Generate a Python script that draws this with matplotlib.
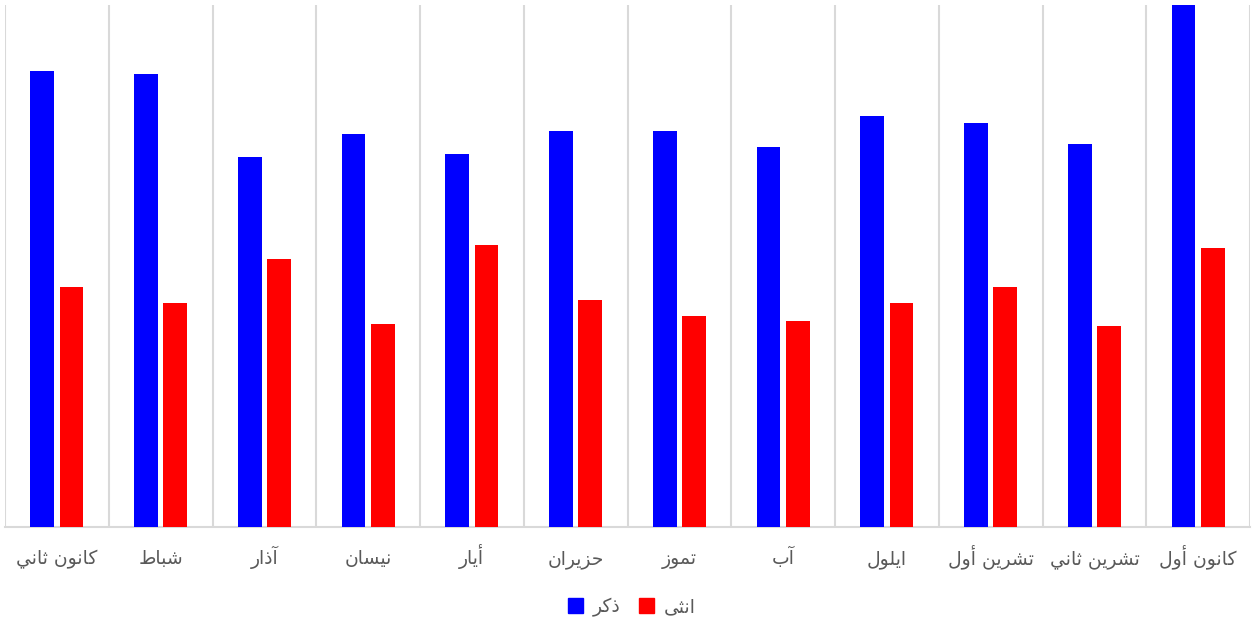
import matplotlib
matplotlib.use("Agg")
import matplotlib.pyplot as plt
from matplotlib.patches import Patch
import numpy as np

months = ["كانون ثاني", "شباط", "آذار", "نيسان", "أيار", "حزيران",
          "تموز", "آب", "ايلول", "تشرين أول", "تشرين ثاني", "كانون أول"]
male = [456, 453, 370, 393, 373, 396, 396, 380, 411, 404, 383, 523]
female = [240, 224, 268, 203, 282, 227, 211, 206, 224, 240, 201, 279]
series_names = ["ذكر", "انثى"]

# minimal arabic shaping: (isolated, final, initial, medial)
FORMS = {
    "ا": ("\uFE8D", "\uFE8E", None, None),
    "آ": ("\uFE81", "\uFE82", None, None),
    "أ": ("\uFE83", "\uFE84", None, None),
    "ب": ("\uFE8F", "\uFE90", "\uFE91", "\uFE92"),
    "ت": ("\uFE95", "\uFE96", "\uFE97", "\uFE98"),
    "ث": ("\uFE99", "\uFE9A", "\uFE9B", "\uFE9C"),
    "ح": ("\uFEA1", "\uFEA2", "\uFEA3", "\uFEA4"),
    "ذ": ("\uFEAB", "\uFEAC", None, None),
    "ر": ("\uFEAD", "\uFEAE", None, None),
    "ز": ("\uFEAF", "\uFEB0", None, None),
    "س": ("\uFEB1", "\uFEB2", "\uFEB3", "\uFEB4"),
    "ش": ("\uFEB5", "\uFEB6", "\uFEB7", "\uFEB8"),
    "ط": ("\uFEC1", "\uFEC2", "\uFEC3", "\uFEC4"),
    "ك": ("\uFED9", "\uFEDA", "\uFEDB", "\uFEDC"),
    "ل": ("\uFEDD", "\uFEDE", "\uFEDF", "\uFEE0"),
    "م": ("\uFEE1", "\uFEE2", "\uFEE3", "\uFEE4"),
    "ن": ("\uFEE5", "\uFEE6", "\uFEE7", "\uFEE8"),
    "و": ("\uFEED", "\uFEEE", None, None),
    "ى": ("\uFEEF", "\uFEF0", None, None),
    "ي": ("\uFEF1", "\uFEF2", "\uFEF3", "\uFEF4"),
}


def shape(text):
    out = []
    for i, ch in enumerate(text):
        if ch not in FORMS:
            out.append(ch)
            continue
        prev = text[i - 1] if i > 0 else ""
        nxt = text[i + 1] if i + 1 < len(text) else ""
        join_prev = prev in FORMS and FORMS[prev][2] is not None
        join_next = FORMS[ch][2] is not None and nxt in FORMS
        iso, fin, ini, med = FORMS[ch]
        if join_prev and join_next:
            out.append(med)
        elif join_prev:
            out.append(fin)
        elif join_next:
            out.append(ini)
        else:
            out.append(iso)
    return "".join(out)[::-1]


W, H = 1252, 621
fig = plt.figure(figsize=(W / 100, H / 100), dpi=100)
ax = fig.add_axes([5 / W, (H - 526.5) / H, 1245 / W, 521.5 / H])

x = np.arange(len(months))
ax.bar(x - 0.141, male, width=0.227, color="#0000ff", zorder=3)
ax.bar(x + 0.141, female, width=0.227, color="#ff0000", zorder=3)

ax.set_xlim(-0.5, len(months) - 0.5)
ax.set_ylim(0, 522)
for b in np.arange(-0.5, len(months), 1.0):
    ax.axvline(b, color="#d9d9d9", lw=1.5, zorder=1)

for s in ["top", "right", "left"]:
    ax.spines[s].set_visible(False)
ax.spines["bottom"].set_color("#d9d9d9")
ax.spines["bottom"].set_linewidth(1.5)
ax.set_yticks([])
ax.set_xticks(x)
ax.set_xticklabels([shape(m) for m in months], fontsize=13.5, color="#595959")
ax.tick_params(axis="x", length=0, pad=27)
for lbl in ax.get_xticklabels():
    lbl.set_va("baseline")

handles = [Patch(color="#0000ff"), Patch(color="#ff0000")]
fig.legend(handles, [shape(n) for n in series_names], loc="center",
           bbox_to_anchor=(632 / W, 1 - 607 / H), ncol=2, frameon=False,
           fontsize=13.5, labelcolor="#595959", handlelength=0.8,
           handleheight=0.8, handletextpad=0.5, columnspacing=1.0)

fig.savefig("out.png", dpi=100)
